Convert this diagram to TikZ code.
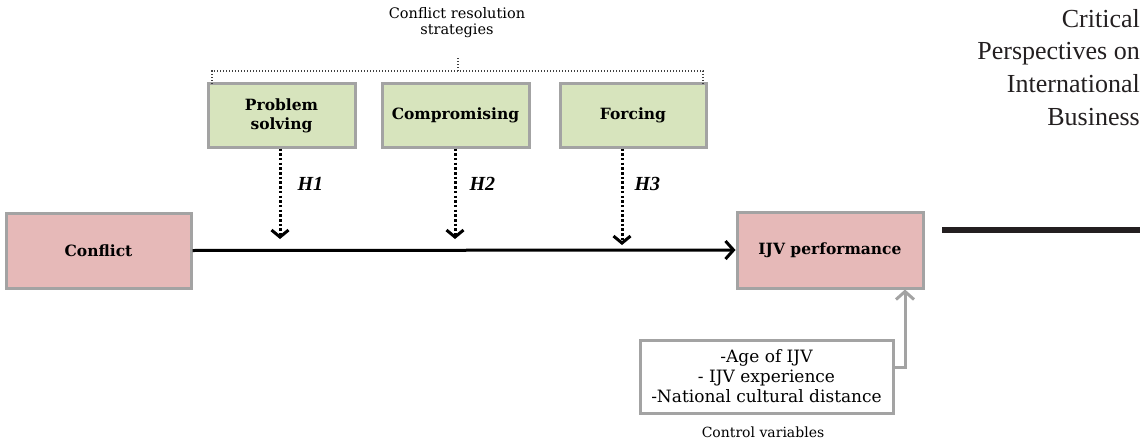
\documentclass[tikz,border=0pt]{standalone}
\usepackage{fontspec}
\setmainfont{Liberation Serif}
\newfontfamily\diagfont{DejaVu Serif}
\usetikzlibrary{arrows.meta}
\definecolor{boxgreen}{HTML}{D7E4BD}
\definecolor{boxpink}{HTML}{E6B9B8}
\definecolor{edgegray}{HTML}{A3A3A3}
\definecolor{txtdark}{HTML}{231F20}
\tikzset{
  box/.style={draw=edgegray, line width=3pt, inner sep=2pt, align=center, font=\diagfont\fontsize{15.5}{19}\selectfont\bfseries},
  greenbox/.style={box, fill=boxgreen},
  pinkbox/.style={box, fill=boxpink},
  ctrlbox/.style={draw=edgegray, line width=3pt, fill=white, align=center, font=\diagfont\fontsize{17}{20}\selectfont},
  hyparrow/.style={line width=3pt, dash pattern=on 2.5pt off 2.2pt, -{Straight Barb[length=7pt,width=17pt,line width=3pt]}},
  mainarrow/.style={line width=3pt, -{Straight Barb[length=8pt,width=18pt,line width=3pt]}},
  grayarrow/.style={draw=edgegray, line width=3pt, -{Straight Barb[length=8pt,width=18pt,line width=3pt]}},
  braceline/.style={line width=1.3pt, dash pattern=on 1.3pt off 1.7pt, color=black!75},
  hlabel/.style={font=\fontsize{20}{20}\selectfont\bfseries\itshape, anchor=west},
}
\begin{document}
\begin{tikzpicture}[x=1pt,y=-1pt]
\useasboundingbox (0,0) rectangle (1146,444);
% title
\node[align=center, font=\diagfont\fontsize{14.5}{16}\selectfont] (title) at (457,23) {Conflict resolution\\strategies};
% strategy boxes
\node[greenbox, minimum width=147pt, minimum height=63pt] (ps) at (281.5,115.5) {Problem\\solving};
\node[greenbox, minimum width=147pt, minimum height=63pt] (cp) at (455.5,115.5) {Compromising};
\node[greenbox, minimum width=146pt, minimum height=63pt] (fo) at (633,115.5) {Forcing};
% dotted brace
\coordinate (bl) at (212,71);
\coordinate (br) at (703,71);
\coordinate (bm) at (458,71);
\coordinate (bt) at (458,58);
\draw[braceline] (212,84) -- (bl) -- (br) -- (703,84);
\draw[braceline] (bm) -- (bt);
% main boxes
\node[pinkbox, minimum width=185pt, minimum height=75pt] (conf) at (98.5,250.5) {Conflict};
\node[pinkbox, minimum width=186pt, minimum height=76pt] (ijv) at (830,250) {IJV performance};
\node[ctrlbox, minimum width=253pt, minimum height=73pt] (ctrl) at (766.5,376.5) {-Age of IJV\\- IJV experience\\-National cultural distance};
\node[font=\diagfont\fontsize{14}{16}\selectfont] (ctrllab) at (763,432) {Control variables};
% main arrow
\draw[mainarrow] (conf.east) -- (ijv.west);
% hypothesis arrows
\coordinate (t1) at (280,239);
\coordinate (t2) at (455,239);
\coordinate (t3) at (622,245);
\draw[hyparrow] (ps.south -| t1) -- (t1);
\draw[hyparrow] (cp.south -| t2) -- (t2);
\draw[hyparrow] (fo.south -| t3) -- (t3);
\node[hlabel] (h1) at (294,184) {H1};
\node[hlabel] (h2) at (466,184) {H2};
\node[hlabel] (h3) at (631,184) {H3};
% control arrow
\coordinate (cbend) at (905,367);
\draw[grayarrow] (ctrl.east |- cbend) -- (cbend) -- (ijv.south -| cbend);
% journal header
\node[align=right, anchor=north east, inner sep=0pt, text=txtdark, font=\fontsize{26}{32.7}\selectfont] (jr) at (1140,9) {Critical\\Perspectives on\\International\\Business};
\fill[txtdark] (942,227) rectangle (1140,233);
\end{tikzpicture}
\end{document}
